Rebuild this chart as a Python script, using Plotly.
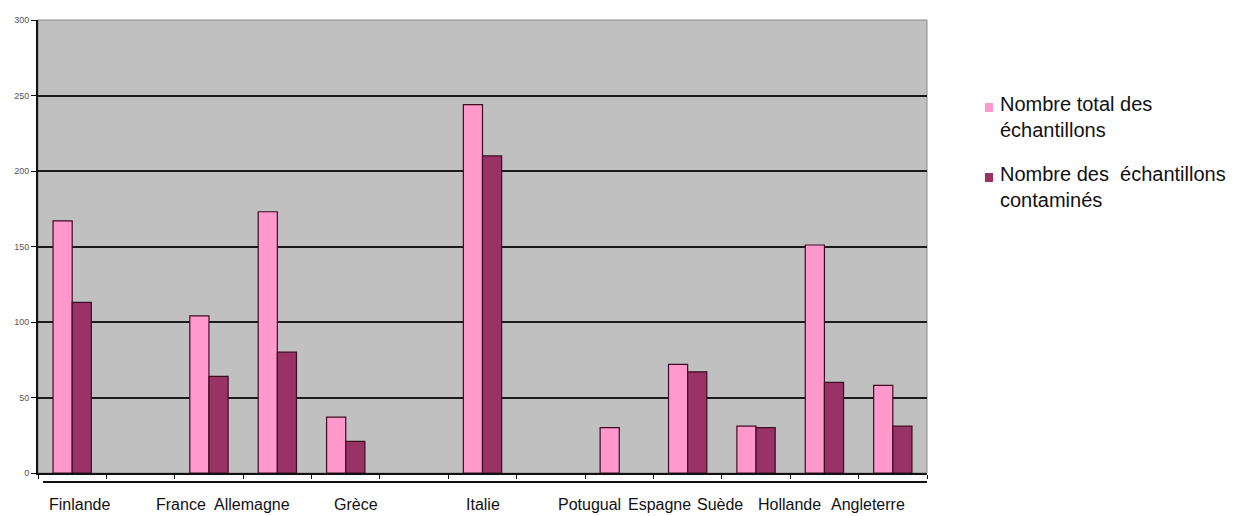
import plotly.graph_objects as go

# Samples per country (blank slots keep the spacing of the original layout)
categories = ["Finlande", "", "France", "Allemagne", "Grèce", "", "Italie", "",
              "Potugual", "Espagne", "Suède", "Hollande", "Angleterre"]
total_samples = [167, None, 104, 173, 37, None, 244, None, 30, 72, 31, 151, 58]
contaminated_samples = [113, None, 64, 80, 21, None, 210, None, None, 67, 30, 60, 31]
series_names = ["Nombre total des<br>échantillons",
                "Nombre des\u00a0\u00a0échantillons<br>contaminés"]
y_ticks = [0, 50, 100, 150, 200, 250, 300]

# ---- layout geometry (pixels) ----
W, H = 1244, 516
L, R, T, B = 38, 927, 20, 473
PW, PH = R - L, B - T

PINK = "#FF99CC"
PLUM = "#993366"
OUTLINE = "#3d0b22"


def px(xpix):
    return (xpix - L) / PW


def py(ypix):
    return (B - ypix) / PH


x = list(range(len(categories)))

fig = go.Figure()
fig.add_trace(go.Bar(x=x, y=total_samples, name=series_names[0],
                     marker=dict(color=PINK, line=dict(color=OUTLINE, width=1.2))))
fig.add_trace(go.Bar(x=x, y=contaminated_samples, name=series_names[1],
                     marker=dict(color=PLUM, line=dict(color=OUTLINE, width=1.2))))

# horizontal offsets of the category labels (pixels)
label_shift = {"Finlande": 7, "France": -28, "Allemagne": -25, "Grèce": 10,
               "Italie": 0, "Potugual": -30, "Espagne": -28, "Suède": -36,
               "Hollande": -35, "Angleterre": -25}

label_font = dict(family="Liberation Sans, Arial", size=16, color="#111111")
annotations = []
for i, name in enumerate(categories):
    if not name:
        continue
    annotations.append(dict(
        x=i, xref="x", y=py(505), yref="paper", text=name, showarrow=False,
        xanchor="center", yanchor="middle", xshift=label_shift.get(name, 0),
        font=label_font))

# legend drawn as text + square markers
legend_font = dict(family="Liberation Sans, Arial", size=20, color="#111111")
annotations.append(dict(x=px(998), xref="paper", y=py(117), yref="paper",
                        text=series_names[0], showarrow=False, align="left",
                        xanchor="left", yanchor="middle", font=legend_font))
annotations.append(dict(x=px(998), xref="paper", y=py(187), yref="paper",
                        text=series_names[1], showarrow=False, align="left",
                        xanchor="left", yanchor="middle", font=legend_font))

shapes = [
    # plot frame
    dict(type="rect", xref="paper", yref="paper", x0=0, x1=1, y0=0, y1=1,
         line=dict(color="#8a8a8a", width=1), layer="below"),
    # lower baseline under the category axis
    dict(type="line", xref="paper", yref="paper", x0=px(43), x1=px(927),
         y0=py(482), y1=py(482), line=dict(color="#111111", width=2)),
    # legend markers
    dict(type="rect", xref="paper", yref="paper", x0=px(985), x1=px(993),
         y0=py(112), y1=py(103), line=dict(width=0), fillcolor=PINK),
    dict(type="rect", xref="paper", yref="paper", x0=px(985), x1=px(993),
         y0=py(182), y1=py(173), line=dict(width=0), fillcolor=PLUM),
]

fig.update_layout(
    width=W, height=H,
    margin=dict(l=L, r=W - R, t=T, b=H - B, pad=0),
    paper_bgcolor="white", plot_bgcolor="#C0C0C0",
    barmode="group", bargap=0.44, bargroupgap=0,
    showlegend=False,
    annotations=annotations, shapes=shapes,
    xaxis=dict(range=[-0.5, len(categories) - 0.5],
               tickmode="array", tickvals=[i - 0.5 for i in range(len(categories) + 1)],
               ticktext=[""] * (len(categories) + 1),
               ticks="outside", ticklen=4, tickcolor="#111111", tickwidth=1,
               showgrid=False, zeroline=False,
               showline=True, linecolor="#111111", linewidth=1.5),
    yaxis=dict(range=[0, 300], tickmode="array", tickvals=y_ticks,
               ticktext=[str(v) for v in y_ticks],
               ticks="outside", ticklen=5, tickcolor="#111111", tickwidth=1,
               showgrid=True, gridcolor="#1a1a1a", gridwidth=1.5,
               zeroline=False, showline=True, linecolor="#111111", linewidth=2,
               tickfont=dict(family="Liberation Sans, Arial", size=9, color="#555555")),
)

fig.write_html("out.html")
